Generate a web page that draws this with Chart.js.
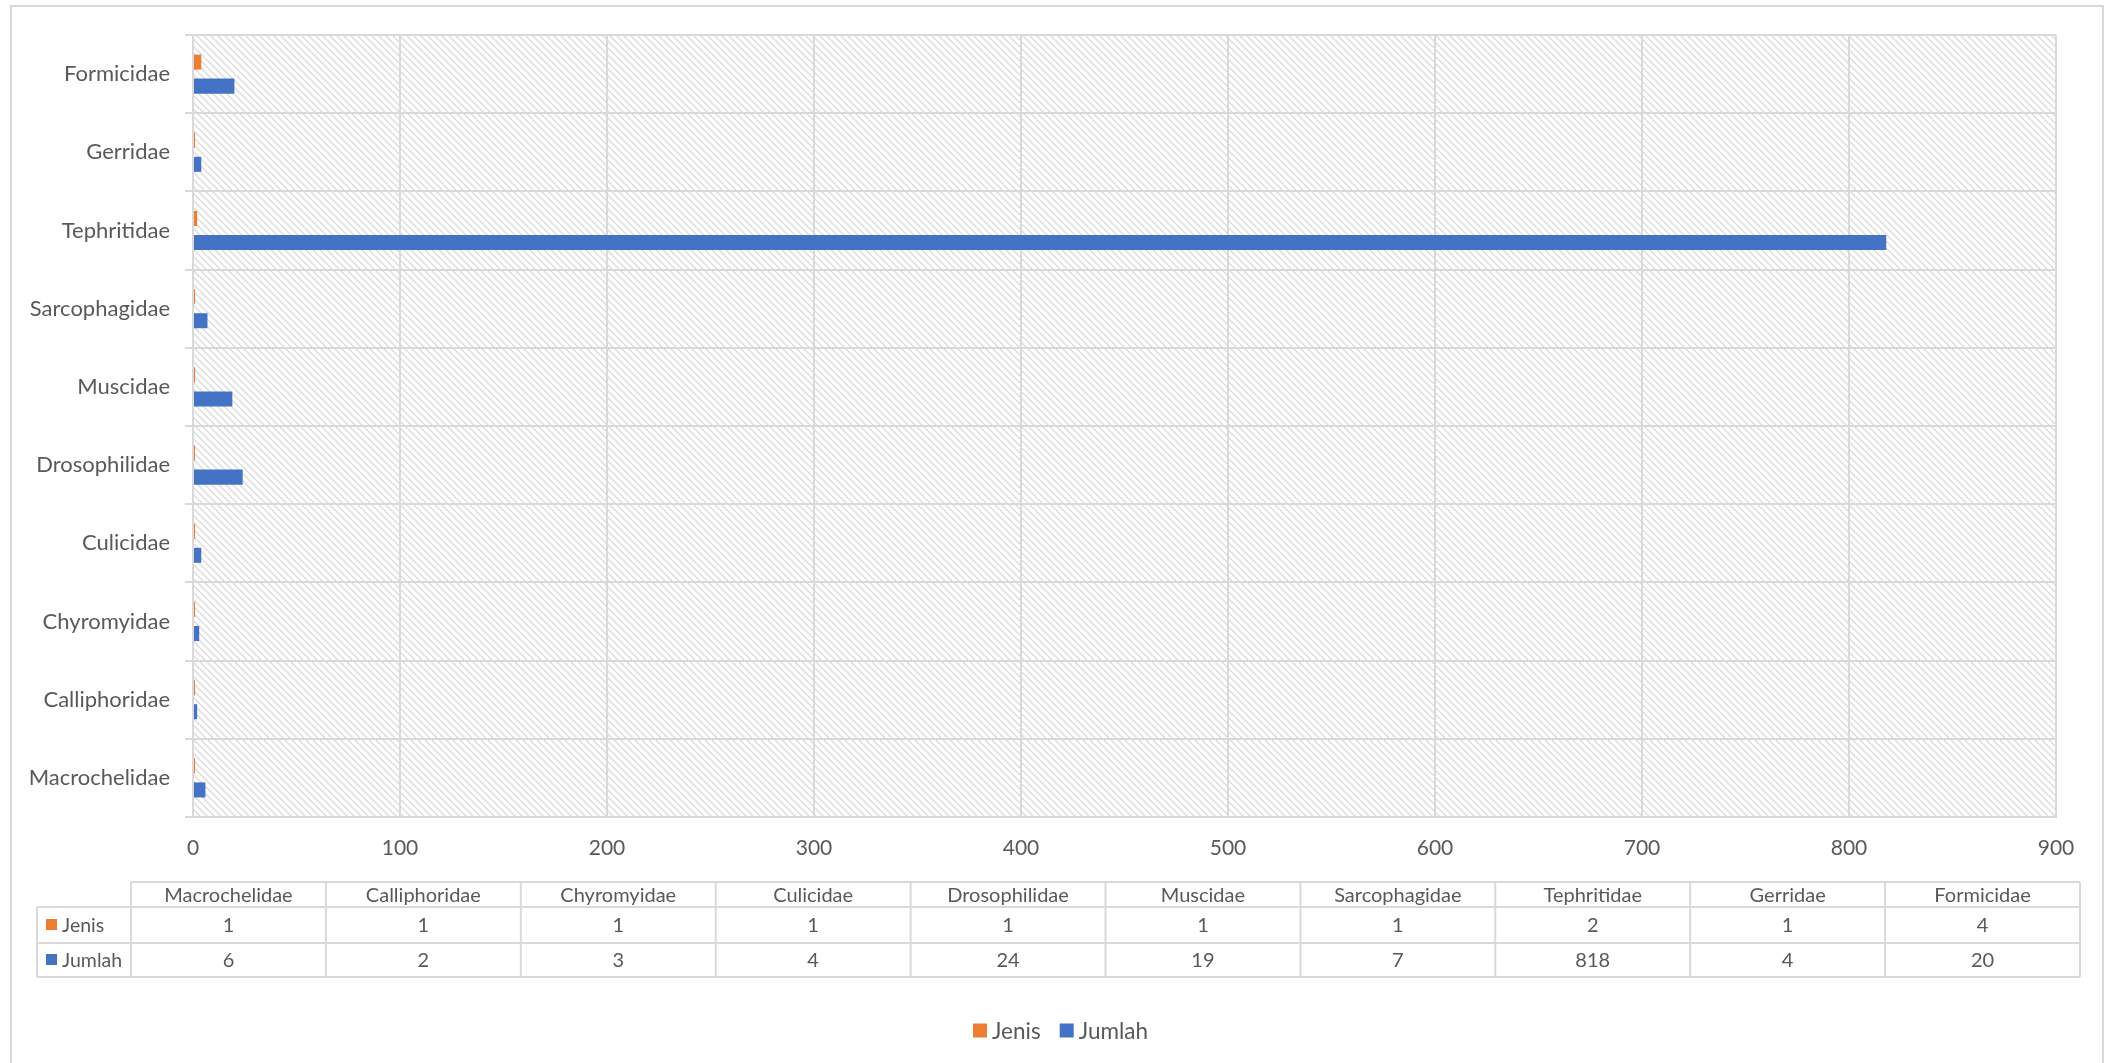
<!DOCTYPE html>
<html>
<head>
<meta charset="utf-8">
<script src="https://cdn.jsdelivr.net/npm/chart.js@4/dist/chart.umd.min.js"></script>
<style>
  html, body { margin: 0; padding: 0; background: #ffffff; }
  canvas { display: block; }
</style>
</head>
<body>
<canvas id="chart" width="2110" height="1063"></canvas>
<script>
// Families, listed bottom-to-top on the chart (left-to-right in the table)
const categories = ['Macrochelidae', 'Calliphoridae', 'Chyromyidae', 'Culicidae', 'Drosophilidae',
                    'Muscidae', 'Sarcophagidae', 'Tephritidae', 'Gerridae', 'Formicidae'];
const seriesNames = ['Jenis', 'Jumlah'];
const jenisValues = [1, 1, 1, 1, 1, 1, 1, 2, 1, 4];
const jumlahValues = [6, 2, 3, 4, 24, 19, 7, 818, 4, 20];
const xTickRange = { min: 0, max: 900, step: 100 };

const ORANGE = '#ED7D31';
const BLUE = '#4472C4';
const SERIES_COLORS = [ORANGE, BLUE];
const TEXT = '#595959';
const GRID = '#d9d9d9';
const FONT = 'Lato, "Open Sans", sans-serif';

// Diagonal hatch used as plot-area fill
function hatchPattern(ctx) {
  const s = 7;
  const tile = document.createElement('canvas');
  tile.width = s; tile.height = s;
  const g = tile.getContext('2d');
  g.fillStyle = '#ffffff';
  g.fillRect(0, 0, s, s);
  g.strokeStyle = '#dadada';
  g.lineWidth = 1.3;
  g.beginPath();
  g.moveTo(-1, -1); g.lineTo(s + 1, s + 1);
  g.moveTo(-1, s - 1); g.lineTo(1, s + 1);
  g.moveTo(s - 1, -1); g.lineTo(s + 1, 1);
  g.stroke();
  return ctx.createPattern(tile, 'repeat');
}

const backdrop = {
  id: 'backdrop',
  beforeDraw(chart) {
    const { ctx, chartArea: a } = chart;
    ctx.save();
    ctx.fillStyle = '#ffffff';
    ctx.fillRect(0, 0, chart.width, chart.height);
    ctx.strokeStyle = GRID;
    ctx.lineWidth = 2;
    ctx.strokeRect(11, 6, 2092, 1070);
    ctx.fillStyle = hatchPattern(ctx);
    ctx.fillRect(a.left, a.top, a.right - a.left, a.bottom - a.top);
    ctx.restore();
  }
};

// Data table under the axis, followed by the series key
const dataTable = {
  id: 'dataTable',
  afterDraw(chart) {
    const { ctx } = chart;
    const left = 37, labelRight = 131, right = 2080;
    const top = 882, headBottom = 907, rowMid = 943, bottom = 977;
    const colW = (right - labelRight) / categories.length;
    ctx.save();
    ctx.strokeStyle = GRID;
    ctx.lineWidth = 2;
    ctx.beginPath();
    ctx.moveTo(labelRight, top); ctx.lineTo(right, top);
    ctx.moveTo(left, headBottom); ctx.lineTo(right, headBottom);
    ctx.moveTo(left, rowMid); ctx.lineTo(right, rowMid);
    ctx.moveTo(left, bottom); ctx.lineTo(right, bottom);
    ctx.moveTo(left, headBottom); ctx.lineTo(left, bottom);
    for (let i = 0; i <= categories.length; i++) {
      const x = labelRight + i * colW;
      ctx.moveTo(x, top); ctx.lineTo(x, bottom);
    }
    ctx.stroke();

    ctx.fillStyle = TEXT;
    ctx.font = '20px ' + FONT;
    ctx.textAlign = 'center';
    ctx.textBaseline = 'middle';
    const rows = [jenisValues, jumlahValues];
    categories.forEach((c, i) => {
      const cx = labelRight + (i + 0.5) * colW;
      ctx.fillText(c, cx, (top + headBottom) / 2 + 1);
      ctx.fillText(String(rows[0][i]), cx, (headBottom + rowMid) / 2 + 1);
      ctx.fillText(String(rows[1][i]), cx, (rowMid + bottom) / 2 + 1);
    });
    const rowCenters = [(headBottom + rowMid) / 2, (rowMid + bottom) / 2];
    ctx.textAlign = 'left';
    ctx.font = '19.5px ' + FONT;
    seriesNames.forEach((n, r) => {
      ctx.fillStyle = SERIES_COLORS[r];
      ctx.fillRect(46, rowCenters[r] - 6, 11, 11);
      ctx.fillStyle = TEXT;
      ctx.fillText(n, 62, rowCenters[r] + 1);
    });

    // series key at the bottom
    ctx.font = '22.5px ' + FONT;
    const box = 14, gap = 5, itemGap = 19, cy = 1030.5;
    const widths = seriesNames.map(n => ctx.measureText(n).width);
    const total = widths.reduce((s, w) => s + box + gap + w, 0) + itemGap * (seriesNames.length - 1);
    let x = 1060.5 - total / 2;
    seriesNames.forEach((n, r) => {
      ctx.fillStyle = SERIES_COLORS[r];
      ctx.fillRect(x, cy - box / 2, box, box);
      ctx.fillStyle = TEXT;
      ctx.fillText(n, x + box + gap, cy + 1);
      x += box + gap + widths[r] + itemGap;
    });
    ctx.restore();
  }
};

new Chart(document.getElementById('chart'), {
  type: 'bar',
  data: {
    labels: categories,
    datasets: seriesNames.map((name, i) => ({
      label: name,
      data: [jenisValues, jumlahValues][i],
      backgroundColor: SERIES_COLORS[i]
    }))
  },
  options: {
    indexAxis: 'y',
    responsive: false,
    animation: false,
    categoryPercentage: 0.615,
    barPercentage: 0.625,
    layout: { padding: { left: 0, right: 54, top: 35, bottom: 0 } },
    plugins: {
      legend: { display: false },
      tooltip: { enabled: false }
    },
    scales: {
      x: {
        min: xTickRange.min, max: xTickRange.max,
        ticks: { stepSize: xTickRange.step, color: TEXT, font: { family: FONT, size: 21 }, padding: 19 },
        grid: { color: GRID, lineWidth: 2, drawTicks: false },
        border: { display: true, color: GRID, width: 2 },
        afterFit(scale) { scale.height = 246; }
      },
      y: {
        reverse: true,
        ticks: { color: TEXT, font: { family: FONT, size: 22 }, padding: 15 },
        grid: { color: GRID, lineWidth: 2, offset: true, tickLength: 8 },
        border: { display: true, color: GRID, width: 2 },
        afterFit(scale) { scale.width = 193; }
      }
    }
  },
  plugins: [backdrop, dataTable]
});
</script>
</body>
</html>
